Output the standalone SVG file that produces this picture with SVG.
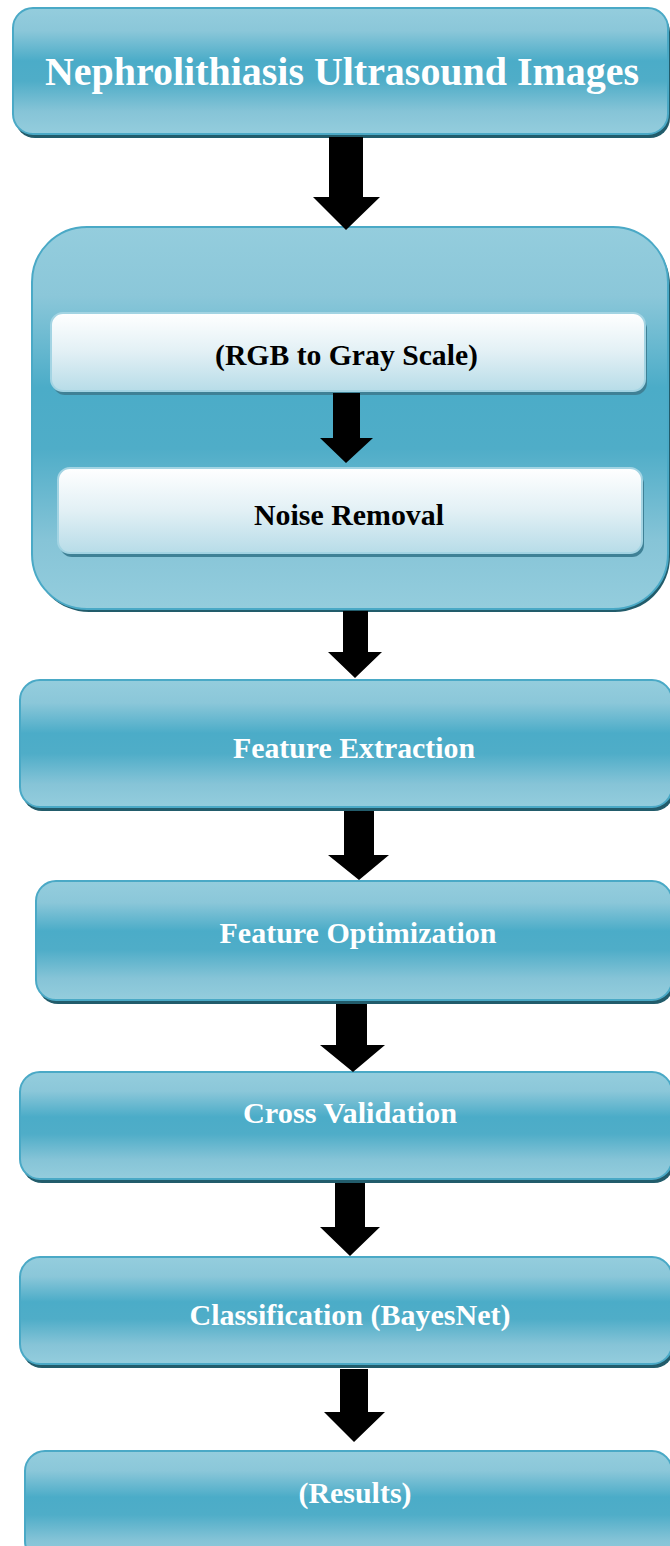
<svg xmlns="http://www.w3.org/2000/svg" width="670" height="1546" viewBox="0 0 670 1546">
  <defs>
    <linearGradient id="blueFill" x1="0" y1="0" x2="0" y2="1">
      <stop offset="0" stop-color="#94cddd"/>
      <stop offset="0.18" stop-color="#8bc7d9"/>
      <stop offset="0.42" stop-color="#4bacc8"/>
      <stop offset="0.58" stop-color="#4fadc8"/>
      <stop offset="0.82" stop-color="#86c4d7"/>
      <stop offset="1" stop-color="#94cddd"/>
    </linearGradient>
    <linearGradient id="whiteFill" x1="0" y1="0" x2="0" y2="1">
      <stop offset="0" stop-color="#ffffff"/>
      <stop offset="0.5" stop-color="#e2f0f5"/>
      <stop offset="1" stop-color="#b7dce8"/>
    </linearGradient>
    <style>
      .shadow { fill: #225c6b; }
      .innerShadow { fill: #3f8196; }
      .box { fill: url(#blueFill); stroke: #4aa9c6; stroke-width: 2; }
      .inner { fill: url(#whiteFill); stroke: #a3d4e3; stroke-width: 2; }
      .label { font-weight: bold; text-anchor: middle; }
      .light { fill: #ffffff; font-size: 29.5px; }
      .dark { fill: #000000; font-size: 29.5px; }
      .title { fill: #ffffff; font-size: 39px; }
      .arrow { fill: #000000; }
    </style>
  </defs>
  <rect width="670" height="1546" fill="#ffffff"/>

  <g id="node-input">
    <rect class="shadow" x="15" y="12" width="655" height="126" rx="20"/>
    <rect class="box" x="13" y="8" width="655" height="126" rx="20"/>
    <text class="label title" font-family="Liberation Serif, serif" x="342" y="85" textLength="594" lengthAdjust="spacingAndGlyphs">Nephrolithiasis Ultrasound Images</text>
  </g>

  <g id="node-preprocessing">
    <rect class="shadow" x="34" y="230" width="636" height="382" rx="55"/>
    <rect class="box" x="32" y="227" width="636" height="382" rx="55"/>
    <g id="node-grayscale">
      <rect class="innerShadow" x="53" y="317" width="594" height="78" rx="12"/>
      <rect class="inner" x="51" y="313" width="594" height="78" rx="12"/>
      <text class="label dark" font-family="Liberation Serif, serif" x="346.5" y="365" textLength="263" lengthAdjust="spacingAndGlyphs">(RGB to Gray Scale)</text>
    </g>
    <g id="node-noise">
      <rect class="innerShadow" x="60" y="472" width="584" height="85" rx="12"/>
      <rect class="inner" x="58" y="468" width="584" height="85" rx="12"/>
      <text class="label dark" font-family="Liberation Serif, serif" x="349" y="525" textLength="190" lengthAdjust="spacingAndGlyphs">Noise Removal</text>
    </g>
  </g>

  <g id="node-extraction">
    <rect class="shadow" x="22" y="684" width="652" height="127" rx="20"/>
    <rect class="box" x="20" y="680" width="652" height="127" rx="20"/>
    <text class="label light" font-family="Liberation Serif, serif" x="354" y="758" textLength="242" lengthAdjust="spacingAndGlyphs">Feature Extraction</text>
  </g>

  <g id="node-optimization">
    <rect class="shadow" x="38" y="885" width="636" height="119" rx="20"/>
    <rect class="box" x="36" y="881" width="636" height="119" rx="20"/>
    <text class="label light" font-family="Liberation Serif, serif" x="358" y="943" textLength="277" lengthAdjust="spacingAndGlyphs">Feature Optimization</text>
  </g>

  <g id="node-validation">
    <rect class="shadow" x="22" y="1076" width="652" height="107" rx="20"/>
    <rect class="box" x="20" y="1072" width="652" height="107" rx="20"/>
    <text class="label light" font-family="Liberation Serif, serif" x="350" y="1123" textLength="214" lengthAdjust="spacingAndGlyphs">Cross Validation</text>
  </g>

  <g id="node-classification">
    <rect class="shadow" x="22" y="1261" width="652" height="107" rx="20"/>
    <rect class="box" x="20" y="1257" width="652" height="107" rx="20"/>
    <text class="label light" font-family="Liberation Serif, serif" x="350" y="1325" textLength="321" lengthAdjust="spacingAndGlyphs">Classification (BayesNet)</text>
  </g>

  <g id="node-results">
    <rect class="shadow" x="27" y="1455" width="647" height="110" rx="20"/>
    <rect class="box" x="25" y="1451" width="647" height="110" rx="20"/>
    <text class="label light" font-family="Liberation Serif, serif" x="355" y="1503" textLength="113" lengthAdjust="spacingAndGlyphs">(Results)</text>
  </g>

  <g id="connectors">
    <polygon class="arrow" points="329,137 363,137 363,197 380,197 346,230 313,197 329,197"/>
    <polygon class="arrow" points="333,393 360,393 360,438 373,438 346,463 320,438 333,438"/>
    <polygon class="arrow" points="343,611 368,611 368,652 382,652 355,678 328,652 343,652"/>
    <polygon class="arrow" points="344,811 374,811 374,855 389,855 359,880 328,855 344,855"/>
    <polygon class="arrow" points="336,1004 367,1004 367,1045 385,1045 353,1072 320,1045 336,1045"/>
    <polygon class="arrow" points="335,1183 365,1183 365,1227 380,1227 350,1256 320,1227 335,1227"/>
    <polygon class="arrow" points="340,1369 368,1369 368,1412 385,1412 354,1442 324,1412 340,1412"/>
  </g>
</svg>
